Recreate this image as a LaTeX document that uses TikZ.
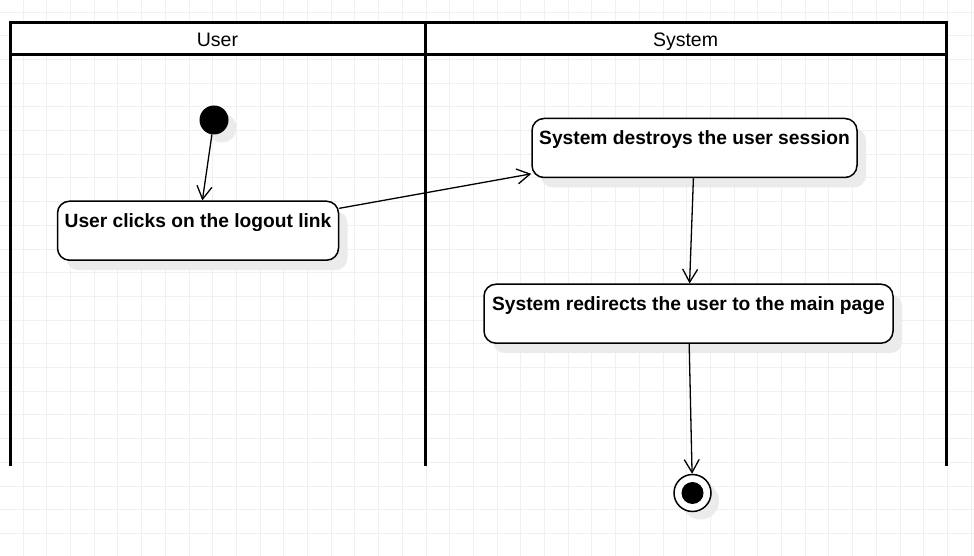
\documentclass[tikz,border=0pt]{standalone}
\usepackage{fontspec}
\setmainfont{Liberation Sans}
\usetikzlibrary{arrows.meta, shadows}
\tikzstyle{action} = [rectangle, rounded corners=12pt, draw=black, line width=1.5pt, fill=white, inner sep=0pt, text height=26pt, text depth=33pt, font=\fontsize{19.2}{22}\selectfont\bfseries, drop shadow={shadow xshift=9pt, shadow yshift=-10pt, fill=black!8, opacity=1}]
\tikzstyle{initial} = [circle, fill=black, minimum size=29pt, inner sep=0pt, drop shadow={shadow xshift=8pt, shadow yshift=-8pt, fill=black!8, opacity=1}]
\tikzstyle{final} = [circle, draw=black, line width=1.5pt, fill=white, minimum size=37pt, inner sep=0pt, drop shadow={shadow xshift=8pt, shadow yshift=-8pt, fill=black!8, opacity=1}]
\tikzstyle{lane} = [line width=3pt]
\tikzstyle{lanetitle} = [anchor=base, font=\fontsize{19.5}{22}\selectfont]
\tikzstyle{gridline} = [draw=black!6, line width=0.8pt]
\tikzstyle{arrow} = [line width=1.3pt, -{Straight Barb[length=13pt, width=15pt]}]

\begin{document}
\begin{tikzpicture}[x=1pt, y=1pt]
        \useasboundingbox (0,0) rectangle (974,556);
        % background grid
        \foreach \i in {0,...,41}
            \draw [gridline] ({-0.7+\i*23.7},0) -- ({-0.7+\i*23.7},556);
        \foreach \i in {0,...,22}
            \draw [gridline] (0,{544-\i*23.7}) -- (974,{544-\i*23.7});

        % swimlanes
        \fill [white] (10,501) rectangle (946,533);
        \draw [lane] (10,90) -- (10,533) -- (946,533) -- (946,90);
        \draw [lane] (10,501) -- (946,501);
        \draw [lane] (425,90) -- (425,533);
        \node (userlane) [lanetitle] at (217.5,509) {User};
        \node (systemlane) [lanetitle] at (685.5,509) {System};

        \node (start) [initial] at (214,436) {};
        \node (actone) [action, minimum width=281pt] at (198,325.3) {User clicks on the logout link};
        \node (acttwo) [action, minimum width=325pt] at (694.5,408) {System destroys the user session};
        \node (actthree) [action, minimum width=409pt] at (688.5,242.3) {System redirects the user to the main page};
        \node (finish) [final] at (692.5,63) {};
        \node (finishdot) [circle, fill=black, minimum size=22pt, inner sep=0pt] at (finish) {};

        \draw [arrow] (start) -- (actone);
        \draw [arrow] (actone.9.6) -- (acttwo.189);
        \draw [arrow] (acttwo) -- (actthree);
        \draw [arrow] (actthree) -- (finish);

    \end{tikzpicture}
\end{document}
